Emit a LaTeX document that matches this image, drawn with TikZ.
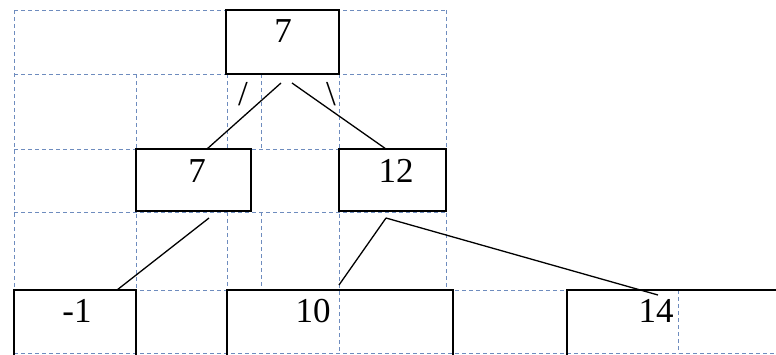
\documentclass[tikz,border=0pt]{standalone}
\usepackage{fontspec}
\setmainfont{Liberation Serif}
\usepackage{xcolor}
\usepackage{tikz}
\definecolor{gridblue}{RGB}{110,140,190}

\begin{document}
\begin{tikzpicture}[x=1pt, y=-1pt,
      box/.style={draw, line width=1.6pt, inner sep=0pt, outer sep=0pt, anchor=north west},
      val/.style={font=\fontsize{35}{40}\selectfont, inner sep=0pt, anchor=base},
      grid/.style={draw=gridblue, line width=0.9pt, dash pattern=on 4pt off 3pt},
      edge/.style={line width=1.3pt}]
    \useasboundingbox (0,0) rectangle (776,354);
    % dashed guide grid
    \draw[grid] (14,10) -- (446,10);
    \draw[grid] (14,74) -- (446,74);
    \draw[grid] (14,149) -- (446,149);
    \draw[grid] (14,212) -- (446,212);
    \draw[grid] (14,290) -- (567,290);
    \draw[grid] (14,353) -- (776,353);
    \draw[grid] (14,10) -- (14,353);
    \draw[grid] (446,10) -- (446,290);
    \draw[grid] (136,74) -- (136,353);
    \draw[grid] (227,74) -- (227,149) (227,212) -- (227,290);
    \draw[grid] (261,74) -- (261,149) (261,212) -- (261,290);
    \draw[grid] (339,74) -- (339,353);
    \draw[grid] (678,290) -- (678,353);
    % boxes
    \node[box, minimum width=113pt, minimum height=64pt] (root) at (226,10) {};
    \node[box, minimum width=115pt, minimum height=62pt] (b7) at (136,149) {};
    \node[box, minimum width=107pt, minimum height=62pt] (b12) at (339,149) {};
    \node[box, minimum width=122pt, minimum height=70pt] (bm1) at (14,290) {};
    \node[box, minimum width=226pt, minimum height=70pt] (b10) at (227,290) {};
    \node[box, minimum width=233pt, minimum height=70pt] (b14) at (567,290) {};
    % values
    \node[val] (vroot) at (283,42) {7};
    \node[val] (v7) at (197,182) {7};
    \node[val] (v12) at (396,182) {12};
    \node[val] (vm1) at (77,322) {-1};
    \node[val] (v10) at (313,322) {10};
    \node[val] (v14) at (656,322) {14};
    \node[val, anchor=center] (sl) at (243,94) {/};
    \node[val, anchor=center] (sr) at (331,94) {\textbackslash};
    % links
    \draw[edge] ([shift={(-1.5,9)}]root.south) -- ([shift={(13.5,0)}]b7.north);
    \draw[edge] ([shift={(9.5,9)}]root.south) -- ([shift={(-6.5,0)}]b12.north);
    \draw[edge] ([shift={(15.5,7)}]b7.south) -- ([shift={(42,0)}]bm1.north);
    \draw[edge] ([shift={(-6.5,7)}]b12.south) -- ([shift={(-1,-5)}]b10.north);
    \draw[edge] ([shift={(-6.5,7)}]b12.south) -- ([shift={(-25.5,5)}]b14.north);
  \end{tikzpicture}
\end{document}
